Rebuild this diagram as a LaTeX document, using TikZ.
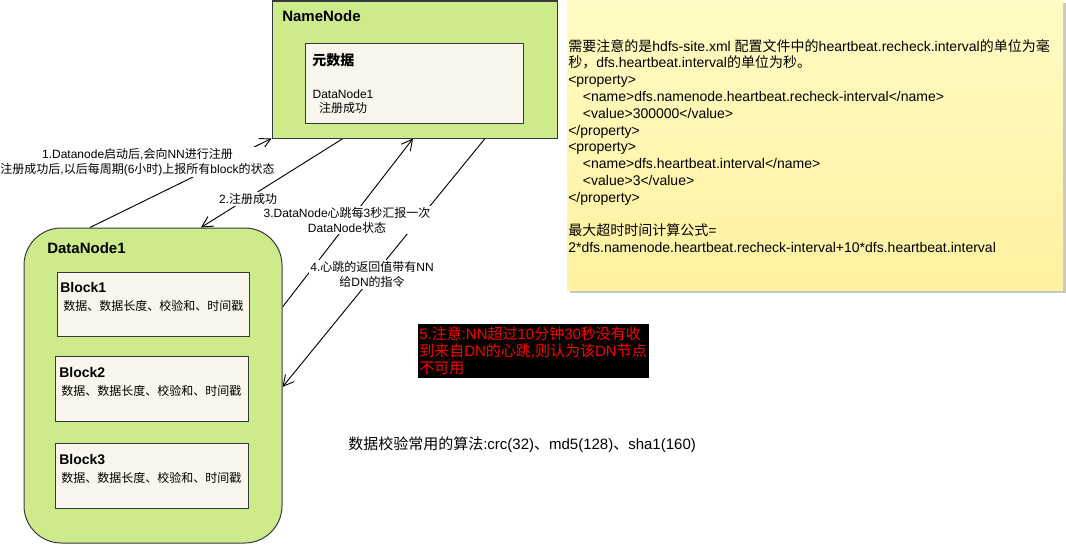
\documentclass[tikz,border=0pt]{standalone}
\usepackage{fontspec}
\setmainfont{Liberation Sans}
\newfontfamily\cjkfont{Noto Sans CJK SC}
\usetikzlibrary{arrows.meta,fit}
\pgfdeclarelayer{under}
\pgfsetlayers{under,main}
% automatic switching of font for CJK characters
\XeTeXinterchartokenstate=1
\newXeTeXintercharclass\cjkcls
\makeatletter
\def\setcjkrange#1#2{\count@=#1\relax
  \loop\XeTeXcharclass\count@=\cjkcls\advance\count@ by 1\relax
  \ifnum\count@<#2\repeat}
\makeatother
\setcjkrange{"3000}{"3040}
\setcjkrange{"4E00}{"A000}
\setcjkrange{"FF00}{"FFF0}
\XeTeXinterchartoks 0 \cjkcls = {\cjkfont}
\XeTeXinterchartoks 4095 \cjkcls = {\cjkfont}
\XeTeXinterchartoks \cjkcls 0 = {\rmfamily}
\XeTeXinterchartoks 4095 0 = {\rmfamily}
\definecolor{greenc}{HTML}{CDEB8B}
\definecolor{edgec}{HTML}{36393D}
\definecolor{boxc}{HTML}{F9F7ED}
\definecolor{notetop}{HTML}{FFFBC4}
\definecolor{notebot}{HTML}{FFF19F}
\definecolor{shadowc}{HTML}{C8C8C8}
\tikzset{
  greenbox/.style={draw=edgec, fill=greenc, line width=0.75pt, inner sep=0pt},
  whitebox/.style={draw=edgec, fill=boxc, line width=0.75pt, inner sep=0pt},
  bigtitle/.style={anchor=west, inner sep=0pt, font=\bfseries\fontsize{11.25}{13.5}\selectfont},
  smalltitle/.style={anchor=west, inner sep=0pt, font=\bfseries\fontsize{10.5}{12.6}\selectfont},
  txt/.style={anchor=west, inner sep=0pt, font=\fontsize{9}{10.8}\selectfont},
  elabel/.style={fill=white, align=center, inner sep=1pt, font=\fontsize{9}{11.4}\selectfont},
  conn/.style={line width=0.7pt, draw=black, -{Straight Barb[length=8pt,width=8.5pt,line width=0.7pt]}},
}
\begin{document}
\begin{tikzpicture}[x=0.75pt, y=-0.75pt]
\useasboundingbox (0,0) rectangle (1066,546);

% NameNode
\node[greenbox, fit={(272,1) (557,138)}] (nn) {};
\node[bigtitle] (nnt) at (282,16) {NameNode};
\node[whitebox, fit={(305,43) (523,123)}] (meta) {};
\node[smalltitle] (metat) at (312,60) {元数据};
\node[txt, anchor=center, align=center] (metatxt) at (343,101.5) {DataNode1\\ 注册成功};

% DataNode1
\node[greenbox, rounded corners=28pt, fit={(24,228) (282,543)}] (dn) {};
\node[bigtitle] (dnt) at (47,248) {DataNode1};
\node[whitebox, fit={(57,272) (249,336)}] (b1) {};
\node[smalltitle] (b1t) at (60,287) {Block1};
\node[txt] (b1x) at (63,306) {数据、数据长度、校验和、时间戳};
\node[whitebox, fit={(55,356) (248,421)}] (b2) {};
\node[smalltitle] (b2t) at (59,372) {Block2};
\node[txt] (b2x) at (61,391) {数据、数据长度、校验和、时间戳};
\node[whitebox, fit={(55,443) (248,508)}] (b3) {};
\node[smalltitle] (b3t) at (59,459) {Block3};
\node[txt] (b3x) at (61,478) {数据、数据长度、校验和、时间戳};

% Note
\fill[shadowc] (570,3) rectangle (1066,293);
\node[inner sep=0pt, top color=notetop, bottom color=notebot, fit={(567,0) (1063,290)}] (note) {};
\node[anchor=west, inner sep=0pt, align=left, font=\fontsize{10.5}{12.6}\selectfont] (notetxt) at (568,146) {%
需要注意的是hdfs-site.xml 配置文件中的heartbeat.recheck.interval的单位为毫\\
秒，dfs.heartbeat.interval的单位为秒。\\
<property>\\
\hspace*{11pt}<name>dfs.namenode.heartbeat.recheck-interval</name>\\
\hspace*{11pt}<value>300000</value>\\
</property>\\
<property>\\
\hspace*{11pt}<name>dfs.heartbeat.interval</name>\\
\hspace*{11pt}<value>3</value>\\
</property>\\
\mbox{}\\
最大超时时间计算公式=\\
2*dfs.namenode.heartbeat.recheck-interval+10*dfs.heartbeat.interval};

% Warning box
\node[fill=black, inner sep=0pt, fit={(418,324) (649,378)}] (warn) {};
\node[anchor=west, inner sep=0pt, align=left, text=red, font=\fontsize{11.25}{12.75}\selectfont] (warntxt) at (419,350.5) {5.注意:NN超过10分钟30秒没有收\\到来自DN的心跳,则认为该DN节点\\不可用};

% Algorithm text
\node[anchor=west, inner sep=0pt, font=\fontsize{11.25}{13.5}\selectfont] (algo) at (348,445) {数据校验常用的算法:crc(32)、md5(128)、sha1(160)};

\begin{pgfonlayer}{under}
% Connectors
\draw[conn] (90,0 |- dn.north) -- (nn.south west);
\draw[conn] (343,0 |- nn.south) -- (201,0 |- dn.north);
\draw[conn] (dn.east |- 0,307) -- (413,0 |- nn.south);
\draw[conn] (485,0 |- nn.south) -- (dn.east |- 0,387);

% Connector labels
\node[elabel] (l1) at (137.5,162) {1.Datanode启动后,会向NN进行注册\\注册成功后,以后每周期(6小时)上报所有block的状态};
\node[elabel] (l2) at (248,199) {2.注册成功};
\node[elabel] (l3) at (347,220) {3.DataNode心跳每3秒汇报一次\\DataNode状态};
\node[elabel] (l4) at (372,274.5) {4.心跳的返回值带有NN\\给DN的指令};
\end{pgfonlayer}
\end{tikzpicture}
\end{document}
